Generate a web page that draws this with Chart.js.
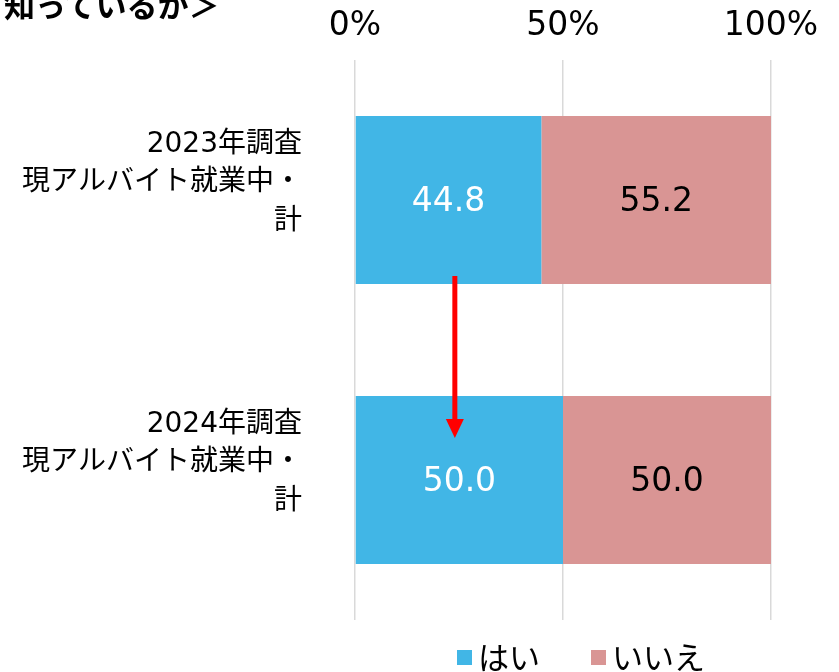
<!DOCTYPE html>
<html>
<head>
<meta charset="utf-8">
<script src="https://cdn.jsdelivr.net/npm/chart.js@4/dist/chart.umd.min.js"></script>
<style>
  body { margin: 0; background: #fff; }
  #wrap { position: relative; width: 839px; height: 672px; overflow: hidden; }
  #title {
    position: absolute; left: 4px; top: -12px;
    font: bold 31px "Noto Sans CJK JP", sans-serif; color: #000; line-height: 1;
  }
</style>
</head>
<body>
<div id="wrap">
  <div id="title">知っているか＞</div>
  <canvas id="myChart" width="839" height="672"></canvas>
</div>
<script>
// categories (multi-line labels)
var categories = [
    ['2023年調査', '現アルバイト就業中・', '計'],
    ['2024年調査', '現アルバイト就業中・', '計']
];
var seriesNames = ['はい', 'いいえ'];
var yesValues = [44.8, 50.0];
var noValues = [55.2, 50.0];
var tickValues = [0, 50, 100];
var arrowAt = 24; // x value where the red arrow runs

var colors = ['#41b6e6', '#d99594'];
var labelColors = ['#ffffff', '#000000'];
var FONT = '"DejaVu Sans", "Noto Sans CJK JP", sans-serif';
var JFONT = '"Noto Sans CJK JP", sans-serif';

// value labels inside bars
var valueLabels = {
    id: 'valueLabels',
    afterDatasetsDraw: function (chart) {
        var ctx = chart.ctx;
        ctx.save();
        ctx.font = '33px ' + FONT;
        ctx.textAlign = 'center';
        ctx.textBaseline = 'middle';
        chart.data.datasets.forEach(function (ds, i) {
            chart.getDatasetMeta(i).data.forEach(function (bar, j) {
                var p = bar.getCenterPoint();
                ctx.fillStyle = labelColors[i];
                ctx.fillText(ds.data[j].toFixed(1), p.x, p.y + 2);
            });
        });
        ctx.restore();
    }
};

// red arrow from first bar to second bar
var arrow = {
    id: 'arrow',
    afterDatasetsDraw: function (chart) {
        var ctx = chart.ctx;
        var x = chart.scales.x.getPixelForValue(arrowAt);
        var y1 = chart.scales.y.getPixelForValue(0) + 76;
        var y2 = chart.scales.y.getPixelForValue(1) - 42;
        ctx.save();
        ctx.strokeStyle = '#ff0000';
        ctx.fillStyle = '#ff0000';
        ctx.lineWidth = 5;
        ctx.beginPath();
        ctx.moveTo(x, y1);
        ctx.lineTo(x, y2 - 16);
        ctx.stroke();
        ctx.beginPath();
        ctx.moveTo(x - 9, y2 - 19);
        ctx.lineTo(x + 9, y2 - 19);
        ctx.lineTo(x, y2);
        ctx.closePath();
        ctx.fill();
        ctx.restore();
    }
};

// legend at the bottom
var bottomLegend = {
    id: 'bottomLegend',
    afterDraw: function (chart) {
        var ctx = chart.ctx;
        ctx.save();
        ctx.font = '31px ' + JFONT;
        ctx.textBaseline = 'middle';
        var xs = [457, 591];
        chart.data.datasets.forEach(function (ds, i) {
            ctx.fillStyle = ds.backgroundColor;
            ctx.fillRect(xs[i], 650, 15, 15);
            ctx.fillStyle = '#000';
            ctx.fillText(ds.label, xs[i] + 21, 657);
        });
        ctx.restore();
    }
};

var ctx = document.getElementById('myChart');
new Chart(ctx, {
    type: 'bar',
    data: {
        labels: categories,
        datasets: [{
            label: seriesNames[0],
            data: yesValues,
            backgroundColor: colors[0]
        }, {
            label: seriesNames[1],
            data: noValues,
            backgroundColor: colors[1]
        }]
    },
    options: {
        indexAxis: 'y',
        responsive: false,
        animation: false,
        layout: { padding: { top: 0, right: 68, bottom: 52, left: 0 } },
        datasets: { bar: { barPercentage: 0.6, categoryPercentage: 1 } },
        plugins: {
            legend: { display: false },
            tooltip: { enabled: false }
        },
        scales: {
            x: {
                position: 'top',
                stacked: true,
                min: 0,
                max: 100,
                afterBuildTicks: function (scale) {
                    scale.ticks = tickValues.map(function (v) { return { value: v }; });
                },
                afterFit: function (scale) {
                    scale.height = 60;
                    scale.paddingLeft = 0;
                    scale.paddingRight = 0;
                },
                grid: { color: '#d9d9d9', lineWidth: 1.5, drawTicks: false },
                border: { display: false },
                ticks: {
                    padding: 14,
                    color: '#000',
                    font: { family: FONT, size: 33 },
                    callback: function (v) { return v + '%'; }
                }
            },
            y: {
                stacked: true,
                afterFit: function (scale) {
                    scale.width = 355;
                    scale.paddingTop = 0;
                    scale.paddingBottom = 0;
                },
                grid: { display: false },
                border: { display: false },
                ticks: {
                    padding: 45,
                    labelOffset: -17,
                    color: '#000',
                    font: { family: FONT, size: 28, lineHeight: 1.38 }
                }
            }
        }
    },
    plugins: [valueLabels, arrow, bottomLegend]
});
</script>
</body>
</html>
